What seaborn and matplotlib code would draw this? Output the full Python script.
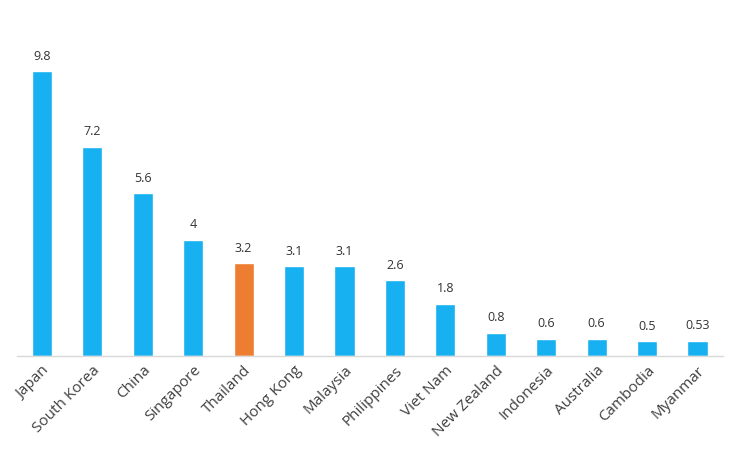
import pandas as pd
import matplotlib
matplotlib.use("Agg")
import matplotlib.pyplot as plt
import seaborn as sns

# --- Data ---
countries = ["Japan", "South Korea", "China", "Singapore", "Thailand", "Hong Kong",
             "Malaysia", "Philippines", "Viet Nam", "New Zealand", "Indonesia",
             "Australia", "Cambodia", "Myanmar"]
values = [9.8, 7.2, 5.6, 4, 3.2, 3.1, 3.1, 2.6, 1.8, 0.8, 0.6, 0.6, 0.5, 0.53]
value_labels = ["9.8", "7.2", "5.6", "4", "3.2", "3.1", "3.1", "2.6", "1.8",
                "0.8", "0.6", "0.6", "0.5", "0.53"]
highlight = "Thailand"

BLUE = "#17B0F0"
ORANGE = "#ED7D31"

df = pd.DataFrame({"country": countries, "value": values})
palette = {c: (ORANGE if c == highlight else BLUE) for c in countries}

sns.set_style("white")
plt.rcParams["font.family"] = ["Open Sans", "DejaVu Sans"]

fig = plt.figure(figsize=(7.33, 4.51), dpi=100)
ax = fig.add_axes([0.0229, 0.2106, 0.963, 0.745])

sns.barplot(data=df, x="country", y="value", hue="country", palette=palette,
            width=0.4, legend=False, ax=ax, saturation=1)

for i, (v, lab) in enumerate(zip(values, value_labels)):
    ax.annotate(lab, (i, v), xytext=(0, 6), textcoords="offset points",
                ha="center", va="bottom", fontsize=9, color="#333333")

ax.set_xlim(-0.5, len(countries) - 0.5)
ax.set_ylim(0, 11.55)
ax.set_xlabel("")
ax.set_ylabel("")
ax.set_yticks([])
ax.tick_params(axis="x", length=0, pad=5)
plt.setp(ax.get_xticklabels(), rotation=45, ha="right", rotation_mode="anchor",
         fontsize=11, color="#404040")

for s in ["top", "right", "left"]:
    ax.spines[s].set_visible(False)
ax.spines["bottom"].set_color("#D9D9D9")
ax.spines["bottom"].set_linewidth(1)

fig.savefig("out.png", dpi=100)
